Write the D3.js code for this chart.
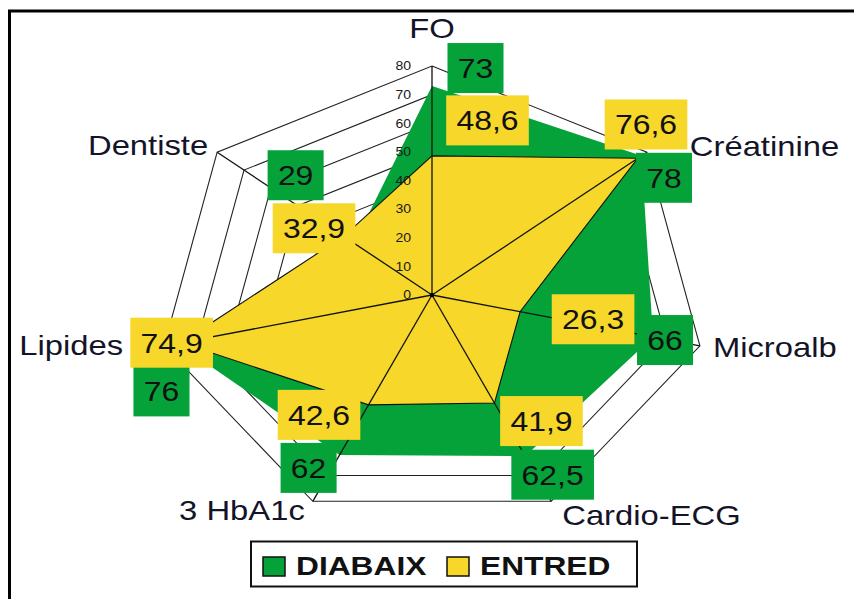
<!DOCTYPE html>
<html>
<head>
  <meta charset="utf-8">
  <script src="https://d3js.org/d3.v7.min.js"></script>
  <style>
    body { margin: 0; background: #fff; }
    text { font-family: "Liberation Sans", Arial, sans-serif; }
  </style>
</head>
<body>
<div id="chart"></div>
<script>
  const categories = ["FO", "Créatinine", "Microalb", "Cardio-ECG", "3 HbA1c", "Lipides", "Dentiste"];
  const diabaix = [73, 78, 66, 62.5, 62, 76, 29];
  const entred = [48.6, 76.6, 26.3, 41.9, 42.6, 74.9, 32.9];
  const tickValues = [0, 10, 20, 30, 40, 50, 60, 70, 80];
  const seriesNames = ["DIABAIX", "ENTRED"];

  // label placement (offsets from the data vertex), layout only
  const greenOff = [[43.5, -18], [22.5, 22], [12, 3], [27.5, 18.5], [-31, 13], [-16, 48], [-58.5, -68]];
  const yellowOff = [[55.5, -35.5], [8.3, -33.8], [73, 7.5], [47, 18], [-49.5, 10], [-9.5, 0], [-29.6, -8]];
  const catOff = [[0, -28, "middle"], [43, 4, "start"], [13, 11, "start"], [11, 24, "start"],
                  [-8, 19, "end"], [-41, 9, "end"], [-9, 3, "end"]];

  const W = 854, H = 599;
  const cx = 432, cy = 295, sx = 1.2;
  const green = "#05a23a", yellow = "#f6d72a";

  const svg = d3.select("#chart").append("svg")
    .attr("width", W).attr("height", H);

  // frame
  svg.append("path").attr("d", `M9.5,${H} V11 H${W}`)
    .attr("fill", "none").attr("stroke", "#000").attr("stroke-width", 3);

  const r = d3.scaleLinear().domain([0, 80]).range([0, 229]);
  const angle = d3.scaleLinear().domain([0, categories.length]).range([0, 2 * Math.PI]);

  const pt = (i, v) => [cx + sx * r(v) * Math.sin(angle(i)), cy - r(v) * Math.cos(angle(i))];

  const g = svg.append("g").attr("transform", `translate(${cx},${cy}) scale(${sx},1)`);

  const radial = d3.lineRadial()
    .angle((d, i) => angle(i))
    .radius(d => r(d))
    .curve(d3.curveLinearClosed);

  // rings
  g.selectAll(".ring").data(tickValues.slice(1)).enter().append("path")
    .attr("d", t => radial(categories.map(() => t)))
    .attr("fill", "none").attr("stroke", "#222").attr("stroke-width", 1.1)
    .attr("vector-effect", "non-scaling-stroke");

  // series
  g.append("path").attr("d", radial(diabaix))
    .attr("fill", green).attr("stroke", "none");
  g.append("path").attr("d", radial(entred))
    .attr("fill", yellow).attr("stroke", "#111").attr("stroke-width", 1.1)
    .attr("vector-effect", "non-scaling-stroke");

  // spokes
  g.selectAll(".spoke").data(categories).enter().append("line")
    .attr("x1", 0).attr("y1", 0)
    .attr("x2", (d, i) => r(80) * Math.sin(angle(i)))
    .attr("y2", (d, i) => -r(80) * Math.cos(angle(i)))
    .attr("stroke", "#111").attr("stroke-width", 1.3)
    .attr("vector-effect", "non-scaling-stroke");
  svg.append("circle").attr("cx", cx).attr("cy", cy).attr("r", 2.2).attr("fill", "#000");

  // tick labels
  svg.selectAll(".tick").data(tickValues).enter().append("text")
    .attr("transform", t => `translate(${cx - 21},${cy - r(t) + 4.3}) scale(1.17,1)`)
    .attr("text-anchor", "end").attr("font-size", 12).attr("fill", "#1a1a1a")
    .text(t => t);

  // value boxes
  const fmt = v => String(v).replace(".", ",");
  function boxes(values, offs, color) {
    values.forEach((v, i) => {
      const p = pt(i, v);
      const bx = svg.append("g")
        .attr("transform", `translate(${p[0] + offs[i][0]},${p[1] + offs[i][1]}) scale(1.14,1)`);
      const rect = bx.append("rect").attr("fill", color);
      const txt = bx.append("text").attr("text-anchor", "middle").attr("y", 10)
        .attr("font-size", 28).attr("fill", "#111").text(fmt(v));
      const w = txt.node().getBBox().width + 18;
      rect.attr("x", -w / 2).attr("y", -25).attr("width", w).attr("height", 50);
    });
  }
  boxes(diabaix, greenOff, green);
  boxes(entred, yellowOff, yellow);

  // category labels
  categories.forEach((c, i) => {
    const p = pt(i, 80);
    svg.append("text")
      .attr("transform", `translate(${p[0] + catOff[i][0]},${p[1] + catOff[i][1]}) scale(1.17,1)`)
      .attr("text-anchor", catOff[i][2]).attr("font-size", 28).attr("fill", "#141428")
      .text(c);
  });

  // legend
  const lg = svg.append("g");
  lg.append("rect").attr("x", 251).attr("y", 541.5).attr("width", 386).attr("height", 45)
    .attr("fill", "#fff").attr("stroke", "#111").attr("stroke-width", 2);
  const legX = [263, 447];
  seriesNames.forEach((s, i) => {
    lg.append("rect").attr("x", legX[i]).attr("y", 557).attr("width", 22).attr("height", 19)
      .attr("fill", i === 0 ? green : yellow).attr("stroke", "#111").attr("stroke-width", 1.5);
    lg.append("text")
      .attr("transform", `translate(${legX[i] + 33},575) scale(1.22,1)`)
      .attr("font-size", 26).attr("font-weight", "bold").attr("fill", "#111")
      .text(s);
  });
</script>
</body>
</html>
